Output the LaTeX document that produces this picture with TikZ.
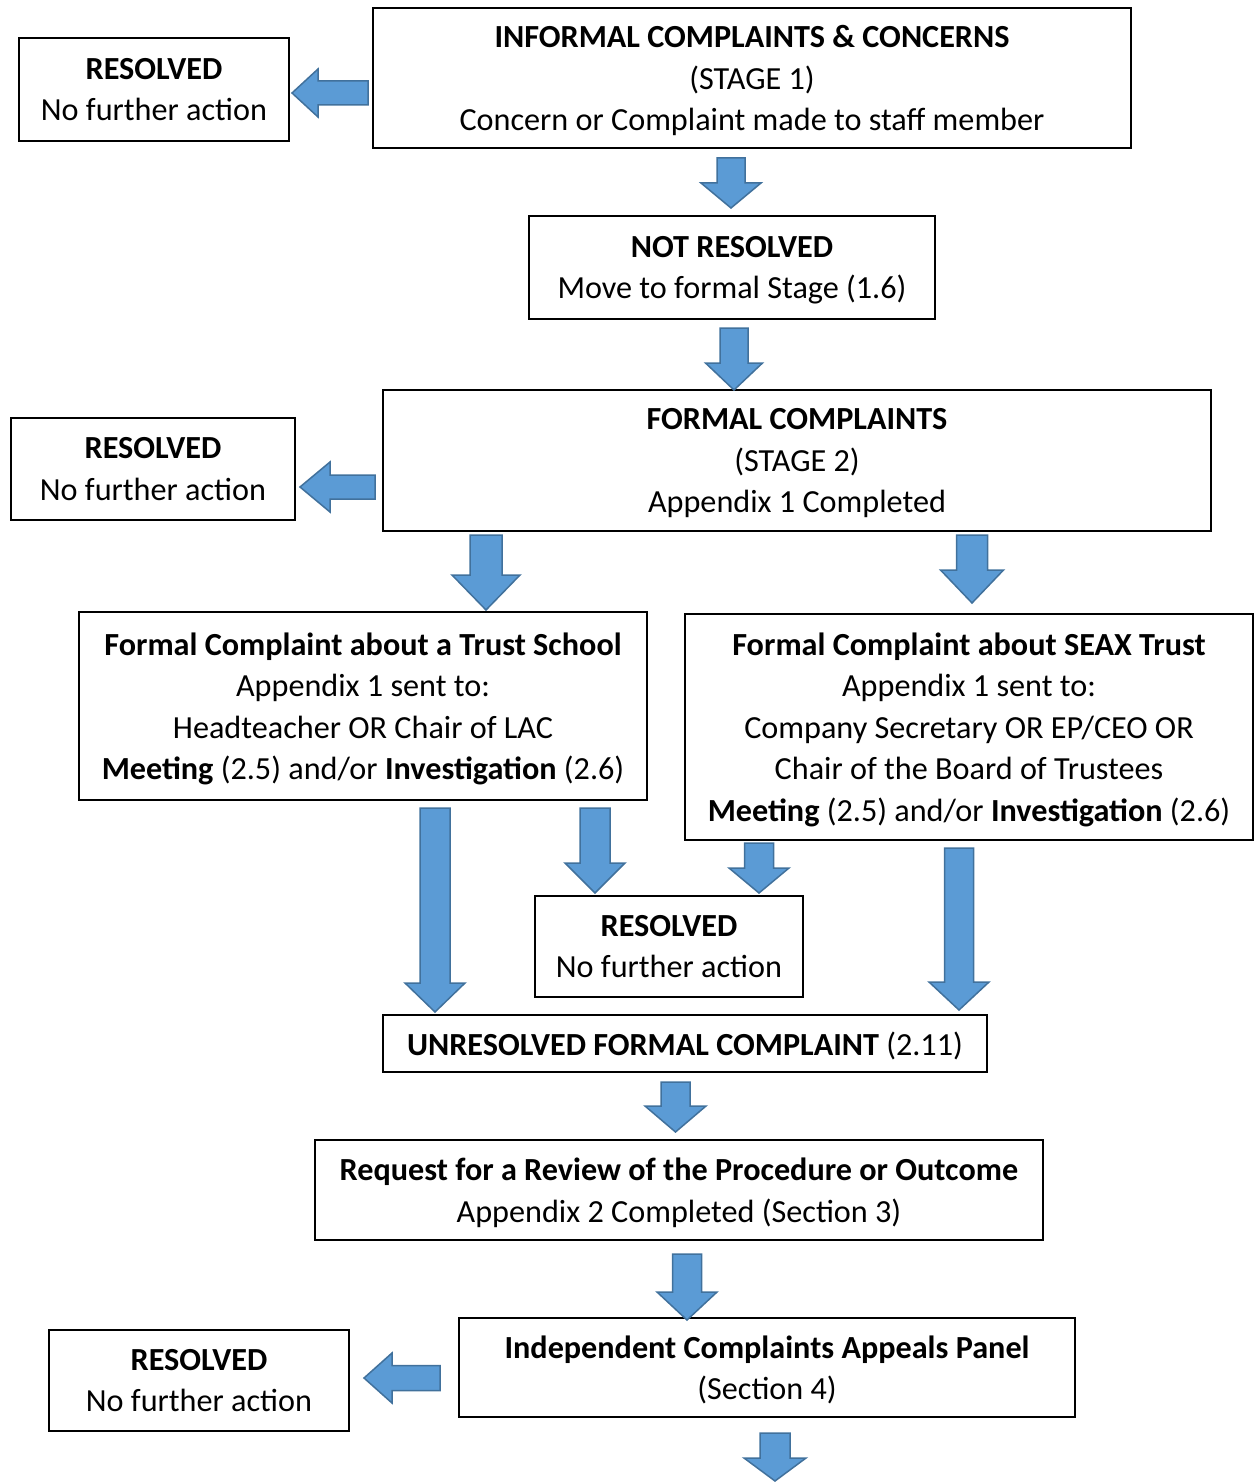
\documentclass[tikz,border=0pt]{standalone}
\usepackage{fontspec}
\setmainfont{Carlito}
\definecolor{arrowfill}{HTML}{5B9BD5}
\definecolor{arrowline}{HTML}{41719C}
% block arrows: centre, shaft half width, head half width, back end, head base, tip
\newcommand{\downblock}[6]{%
  \draw[blockarrow] (#1-#2,#4) -- (#1+#2,#4) -- (#1+#2,#5) -- (#1+#3,#5)
    -- (#1,#6) -- (#1-#3,#5) -- (#1-#2,#5) -- cycle;}
\newcommand{\leftblock}[6]{%
  \draw[blockarrow] (#4,#1-#2) -- (#4,#1+#2) -- (#5,#1+#2) -- (#5,#1+#3)
    -- (#6,#1) -- (#5,#1-#3) -- (#5,#1-#2) -- cycle;}

\begin{document}
\begin{tikzpicture}[x=1pt,y=-1pt]
    % `box' is used for every step of the procedure.
    % `blockarrow' is used for the thick blue arrows.
    \tikzstyle{box} = [draw,line width=1.6pt,align=center,inner sep=0pt,
      font=\fontsize{32.2}{41.5}\selectfont,text depth=-8pt]
    \tikzstyle{blockarrow} = [fill=arrowfill,draw=arrowline,line width=1.5pt,line join=miter]
    %
    \useasboundingbox (0,0) rectangle (1259,1482);
    \node[box,minimum width=758,minimum height=140] (informal) at (752,78)
      {\textbf{INFORMAL COMPLAINTS \& CONCERNS}\\(STAGE 1)\\Concern or Complaint made to staff member};
    \node[box,minimum width=270,minimum height=103] (resA) at (154,89.5)
      {\textbf{RESOLVED}\\No further action};
    \node[box,minimum width=406,minimum height=103] (notres) at (732,267.5)
      {\textbf{NOT RESOLVED}\\Move to formal Stage (1.6)};
    \node[box,minimum width=828,minimum height=141] (formal) at (797,460.5)
      {\textbf{FORMAL COMPLAINTS}\\(STAGE 2)\\Appendix 1 Completed};
    \node[box,minimum width=284,minimum height=102] (resB) at (153,469)
      {\textbf{RESOLVED}\\No further action};
    \node[box,minimum width=568,minimum height=188] (school) at (363,706)
      {\textbf{Formal Complaint about a Trust School}\\Appendix 1 sent to:\\
       Headteacher OR Chair of LAC\\\textbf{Meeting} (2.5) and/or \textbf{Investigation} (2.6)};
    \node[box,minimum width=568,minimum height=226] (seax) at (969,727)
      {\textbf{Formal Complaint about SEAX Trust}\\Appendix 1 sent to:\\
       Company Secretary OR EP/CEO OR\\Chair of the Board of Trustees\\
       \textbf{Meeting} (2.5) and/or \textbf{Investigation} (2.6)};
    \node[box,minimum width=268,minimum height=101] (resC) at (669,946.5)
      {\textbf{RESOLVED}\\No further action};
    \node[box,minimum width=604,minimum height=57] (unres) at (685,1043.5)
      {\textbf{UNRESOLVED FORMAL COMPLAINT} (2.11)};
    \node[box,minimum width=728,minimum height=100] (review) at (679,1190)
      {\textbf{Request for a Review of the Procedure or Outcome}\\Appendix 2 Completed (Section 3)};
    \node[box,minimum width=616,minimum height=99] (panel) at (767,1367.5)
      {\textbf{Independent Complaints Appeals Panel}\\(Section 4)};
    \node[box,minimum width=300,minimum height=101] (resD) at (199,1380.5)
      {\textbf{RESOLVED}\\No further action};
    % arrows
    \leftblock{93}{12}{24}{368}{318}{292}
    \downblock{731}{14}{30}{158}{183}{208}
    \downblock{734}{14}{28.5}{328}{363}{390}
    \leftblock{487}{12}{25}{375}{330}{300}
    \downblock{486}{16}{34}{535}{575}{610}
    \downblock{972}{15.5}{31.5}{535}{570}{603}
    \downblock{435}{15}{30}{808}{983}{1012}
    \downblock{595}{15}{30}{808}{863}{893}
    \downblock{759}{14.5}{30}{843}{868}{893}
    \downblock{959}{14.5}{30}{848}{982}{1010}
    \downblock{675.5}{14.5}{30.5}{1082}{1106}{1132}
    \downblock{687}{14.5}{30}{1254}{1292}{1320}
    \leftblock{1378}{12.5}{25}{440}{392}{364}
    \downblock{775}{15}{31}{1433}{1458}{1481}
\end{tikzpicture}
\end{document}
